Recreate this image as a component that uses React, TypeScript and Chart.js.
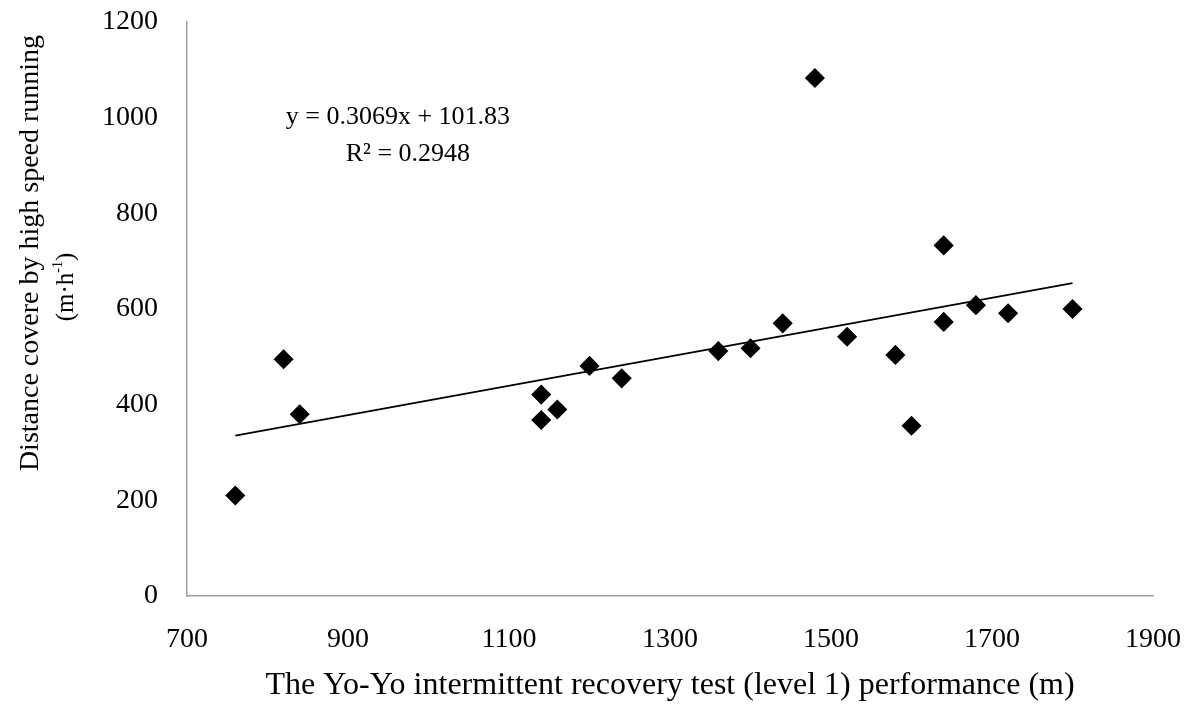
import React, { useEffect, useRef } from "react";
import { Chart, registerables } from "chart.js";

Chart.register(...registerables);

// Yo-Yo IR1 distance (m) for each player
const yoyoDistance = [
  760, 820, 840, 1140, 1140, 1160, 1200, 1240, 1360, 1400,
  1440, 1480, 1520, 1580, 1600, 1640, 1640, 1680, 1720, 1800,
];
// Distance covered by high speed running (m·h⁻¹) for the same players
const highSpeedRunning = [
  210, 495, 380, 421, 368, 390, 481, 455, 512, 518,
  570, 1083, 542, 504, 356, 733, 573, 608, 591, 600,
];

// Linear fit reported on the chart
const trendSlope = 0.3069;
const trendIntercept = 101.83;
const equationLines = ["y = 0.3069x + 101.83", "R² = 0.2948"];

const xTickValues = [700, 900, 1100, 1300, 1500, 1700, 1900];
const yTickValues = [0, 200, 400, 600, 800, 1000, 1200];

const xTitle = "The Yo-Yo intermittent recovery test (level 1) performance (m)";
const yTitleMain = "Distance covere by high speed running";
const yTitleUnitParts = ["(m·h", "-1", ")"];

const FONT = "'Liberation Serif', 'Times New Roman', serif";
const TICK_SIZE = 28;

const textPlugin = {
  id: "chartTexts",
  afterDraw(chart: Chart) {
    const { ctx } = chart;
    const xs = chart.scales.x;
    const ys = chart.scales.y;
    ctx.save();
    ctx.fillStyle = "#000";
    ctx.textBaseline = "middle";
    ctx.textAlign = "center";

    // regression equation and R²
    ctx.font = `26px ${FONT}`;
    const eqX = xs.getPixelForValue(962);
    ctx.fillText(equationLines[0], eqX, ys.getPixelForValue(1001));
    ctx.fillText(equationLines[1], eqX + 10, ys.getPixelForValue(923));

    // x-axis title
    ctx.font = `32px ${FONT}`;
    ctx.fillText(xTitle, 670, 686);

    // y-axis title (rotated, two lines)
    ctx.font = `28px ${FONT}`;
    ctx.save();
    ctx.translate(31, 253);
    ctx.rotate(-Math.PI / 2);
    ctx.fillText(yTitleMain, 0, 0);
    ctx.restore();

    ctx.save();
    ctx.translate(66, 287);
    ctx.rotate(-Math.PI / 2);
    const normFont = `25px ${FONT}`;
    const supFont = `14px ${FONT}`;
    ctx.font = normFont;
    const w0 = ctx.measureText(yTitleUnitParts[0]).width;
    const w2 = ctx.measureText(yTitleUnitParts[2]).width;
    ctx.font = supFont;
    const w1 = ctx.measureText(yTitleUnitParts[1]).width;
    let cx = -(w0 + w1 + w2) / 2;
    ctx.textAlign = "left";
    ctx.font = normFont;
    ctx.fillText(yTitleUnitParts[0], cx, 0);
    cx += w0;
    ctx.font = supFont;
    ctx.fillText(yTitleUnitParts[1], cx, -8);
    cx += w1;
    ctx.font = normFont;
    ctx.fillText(yTitleUnitParts[2], cx, 0);
    ctx.restore();

    ctx.restore();
  },
};

export default function App() {
  const canvasRef = useRef<HTMLCanvasElement | null>(null);

  useEffect(() => {
    if (!canvasRef.current) return;
    const xMin = Math.min(...yoyoDistance);
    const xMax = Math.max(...yoyoDistance);
    const trendPoints = [xMin, xMax].map((x) => ({ x, y: trendSlope * x + trendIntercept }));
    const scatterPoints = yoyoDistance.map((x, i) => ({ x, y: highSpeedRunning[i] }));

    const chart = new Chart(canvasRef.current, {
      type: "scatter",
      data: {
        datasets: [
          {
            label: "Players",
            data: scatterPoints,
            pointStyle: "rectRot",
            pointRadius: 9,
            pointBorderWidth: 1.5,
            backgroundColor: "#000",
            borderColor: "#000",
            order: 1,
          },
          {
            label: "Linear fit",
            type: "line",
            data: trendPoints,
            borderColor: "#000",
            borderWidth: 1.8,
            pointRadius: 0,
            fill: false,
            order: 2,
          },
        ],
      },
      options: {
        responsive: false,
        animation: false,
        devicePixelRatio: 1,
        layout: { padding: { top: 22, right: 47, left: 0, bottom: 0 } },
        plugins: {
          legend: { display: false },
          tooltip: { enabled: false },
          title: { display: false },
        },
        scales: {
          x: {
            type: "linear",
            min: 700,
            max: 1900,
            afterBuildTicks: (scale: any) => {
              scale.ticks = xTickValues.map((v) => ({ value: v }));
            },
            afterFit: (scale: any) => {
              scale.height = 119;
              scale.paddingLeft = 0;
              scale.paddingRight = 0;
            },
            grid: { display: false, drawTicks: false },
            border: { display: true, color: "#a0a0a0", width: 1.5 },
            ticks: {
              padding: 27,
              color: "#000",
              font: { family: FONT, size: TICK_SIZE },
              maxRotation: 0,
              autoSkip: false,
              callback: (v: any) => String(v),
            },
          },
          y: {
            type: "linear",
            min: 0,
            max: 1200,
            afterBuildTicks: (scale: any) => {
              scale.ticks = yTickValues.map((v) => ({ value: v }));
            },
            afterFit: (scale: any) => {
              scale.width = 187;
              scale.paddingTop = 0;
              scale.paddingBottom = 0;
            },
            grid: { display: false, drawTicks: false },
            border: { display: true, color: "#a0a0a0", width: 1.5 },
            ticks: {
              padding: 29,
              color: "#000",
              font: { family: FONT, size: TICK_SIZE },
              autoSkip: false,
              callback: (v: any) => String(v),
            },
          },
        },
      },
      plugins: [textPlugin],
    });

    return () => chart.destroy();
  }, []);

  return (
    <div style={{ position: "fixed", left: 0, top: 0, width: 1200, height: 715, background: "#fff" }}>
      <canvas ref={canvasRef} width={1200} height={715} />
    </div>
  );
}
